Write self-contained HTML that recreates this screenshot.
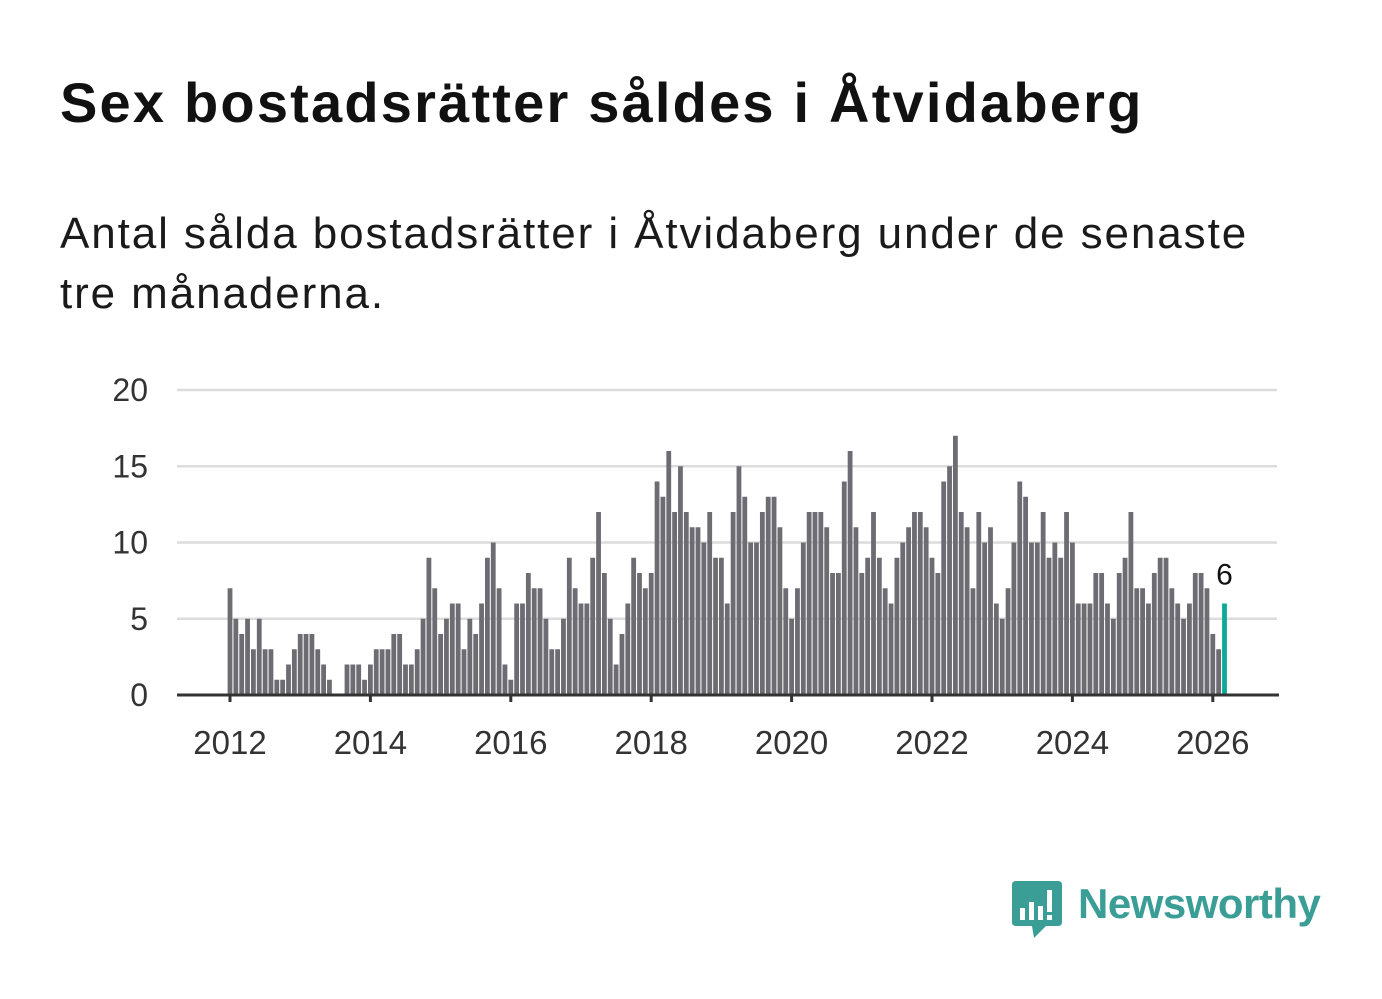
<!DOCTYPE html>
<html><head><meta charset="utf-8">
<style>
body{margin:0;background:#fff;width:1382px;height:999px;overflow:hidden;font-family:"Liberation Sans",sans-serif;}
h1{position:absolute;left:60px;top:70px;margin:0;font-size:56px;font-weight:bold;color:#111;letter-spacing:2.2px;white-space:nowrap}
.sub{position:absolute;left:60px;top:204px;margin:0;font-size:44px;line-height:60px;color:#1a1a1a;width:1240px;letter-spacing:1.9px}
svg{position:absolute;left:0;top:0}
</style></head><body>
<h1>Sex bostadsrätter såldes i Åtvidaberg</h1>
<p class="sub">Antal sålda bostadsrätter i Åtvidaberg under de senaste tre månaderna.</p>
<svg id="chart" width="1382" height="999"></svg>
<div style="position:absolute;left:1010px;top:878px;">
<svg width="56" height="62" style="position:absolute;left:0;top:0">
<path d="M4 3 H48 Q52 3 52 7 V44 Q52 48 48 48 H36 L24 60 L22 48 H6 Q2 48 2 44 V7 Q2 3 6 3Z" fill="#3a9d96"/>
<rect x="10" y="30" width="5" height="12" fill="#fff"/><rect x="19" y="24" width="5" height="18" fill="#fff"/><rect x="28" y="28" width="5" height="14" fill="#fff"/><rect x="37" y="12" width="5" height="22" fill="#fff"/><rect x="37" y="37" width="5" height="5" fill="#fff"/>
</svg>
<span style="position:absolute;left:68px;top:2px;font-size:42px;font-weight:bold;color:#3a9d96;white-space:nowrap;letter-spacing:-0.5px">Newsworthy</span>
</div>
<script>
const years=[2012,2013,2014,2015,2016,2017,2018,2019,2020,2021,2022,2023,2024,2025,2026];
const yTicks=[0,5,10,15,20];
const xTickLabels=["2012","2014","2016","2018","2020","2022","2024","2026"];
const values=[
7,5,4,5,3,5,3,3,1,1,2,3,
4,4,4,3,2,1,0,0,2,2,2,1,
2,3,3,3,4,4,2,2,3,5,9,7,
4,5,6,6,3,5,4,6,9,10,7,2,
1,6,6,8,7,7,5,3,3,5,9,7,
6,6,9,12,8,5,2,4,6,9,8,7,
8,14,13,16,12,15,12,11,11,10,12,9,
9,6,12,15,13,10,10,12,13,13,11,7,
5,7,10,12,12,12,11,8,8,14,16,11,
8,9,12,9,7,6,9,10,11,12,12,11,
9,8,14,15,17,12,11,7,12,10,11,6,
5,7,10,14,13,10,10,12,9,10,9,12,
10,6,6,6,8,8,6,5,8,9,12,7,
7,6,8,9,9,7,6,5,6,8,8,7,
4,3,6];
const svg=document.getElementById('chart');
const NS='http://www.w3.org/2000/svg';
const x0=230,yearW=70.2,monthW=yearW/12,y0=695,unit=15.25;
const X=i=>x0+i*monthW;
const Y=v=>y0-v*unit;
function mk(t,a){const e=document.createElementNS(NS,t);for(const k in a)e.setAttribute(k,a[k]);svg.appendChild(e);return e;}
yTicks.forEach(v=>{
  if(v>0){const g=mk('line',{x1:177,x2:1277,y1:Y(v),y2:Y(v),stroke:'#dcdcdc','stroke-width':2.5});
  
  }
  const t=mk('text',{x:148,y:Y(v)+11,'text-anchor':'end','font-size':32,fill:'#333','font-family':'Liberation Sans, sans-serif'});
  t.textContent=v;
  
  
});
values.forEach((v,i)=>{
  const last=i===values.length-1;
  const r=mk('rect',{x:X(i)-2.4,y:Y(v),width:4.8,height:v*unit,fill:last?'#0ca99a':'#6d6c72'});
  
  
  if(last){const t=mk('text',{x:X(i),y:Y(v)-19,'text-anchor':'middle','font-size':30,fill:'#111','font-family':'Liberation Sans, sans-serif'});
  t.textContent=v;
  
  }
});
const ax=mk('line',{x1:177,x2:1279,y1:y0,y2:y0,stroke:'#333','stroke-width':3});


xTickLabels.forEach(l=>{
  const xi=X((+l-years[0])*12);
  const tk=mk('line',{x1:xi,x2:xi,y1:y0,y2:y0+7,stroke:'#333','stroke-width':3});
  
  
  const t=mk('text',{x:xi,y:754,'text-anchor':'middle','font-size':33,fill:'#333','font-family':'Liberation Sans, sans-serif'});
  t.textContent=l;
  
  
});
</script>
</body></html>
